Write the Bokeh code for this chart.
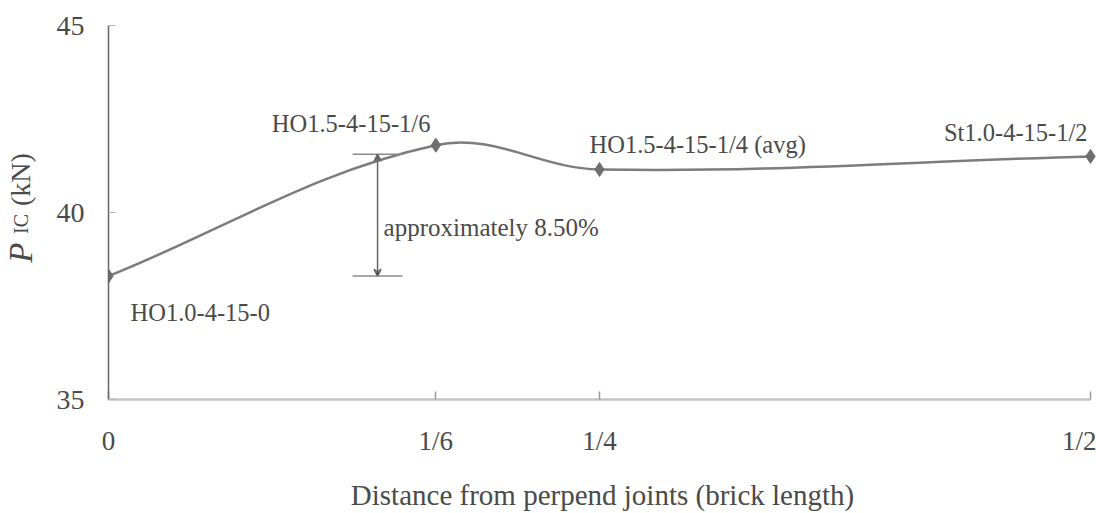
import math
import numpy as np
from bokeh.plotting import figure
from bokeh.layouts import row
from bokeh.models import Range1d, FixedTicker, Arrow, VeeHead
from bokeh.core.properties import value
from bokeh.embed import file_html
from bokeh.resources import INLINE

# ---- data -------------------------------------------------------------
positions = [0, 1 / 6, 1 / 4, 1 / 2]              # distance from perpend joints
tick_labels = ["0", "1/6", "1/4", "1/2"]
p_ic = [38.3, 41.8, 41.15, 41.5]                  # P_IC (kN)
specimens = ["HO1.0-4-15-0", "HO1.5-4-15-1/6",
             "HO1.5-4-15-1/4 (avg)", "St1.0-4-15-1/2"]
y_ticks = [35, 40, 45]
increase_pct = 8.50                               # rise from the 0 specimen

# ---- layout / style ---------------------------------------------------
W, H = 1096, 513
TITLE_W = 48                 # strip holding the rotated y title
LEFT = 108                   # canvas x of the plotting frame
TOP, BOTTOM = 25, 113
FRAME_H = H - TOP - BOTTOM
FRAME_W = W - LEFT           # frame runs to the right edge
X0, XMAX = 0.0, 0.5
Y0, Y1 = 35.0, 45.0
SX = 982 / (XMAX - X0)       # px per x unit (0.5 sits 6 px inside the edge)
SY = FRAME_H / (Y1 - Y0)     # px per y unit
X1 = X0 + FRAME_W / SX

FONT = "Liberation Serif"
TXT = "#4a4a4a"
LINE = "#7c7c7c"

p = figure(width=W - TITLE_W, height=H, output_backend="svg", toolbar_location=None,
           x_range=Range1d(X0, X1), y_range=Range1d(Y0, Y1),
           min_border_left=LEFT - TITLE_W, min_border_right=0,
           min_border_top=TOP, min_border_bottom=BOTTOM)
p.outline_line_color = None
p.xgrid.grid_line_color = None
p.ygrid.grid_line_color = None

# x axis
xa = p.xaxis[0]
xa.ticker = FixedTicker(ticks=positions)
xa.bounds = (X0, XMAX)
xa.major_label_overrides = {t: lab for t, lab in zip(positions, tick_labels)}
xa.minor_tick_line_color = None
xa.major_tick_in = 8
xa.major_tick_out = 0
xa.major_tick_line_color = "#9a9a9a"
xa.major_tick_line_width = 1.5
xa.axis_line_color = "#c4c4c4"
xa.axis_line_width = 2.5
xa.major_label_text_font = FONT
xa.major_label_text_font_size = "27px"
xa.major_label_text_color = TXT
xa.major_label_standoff = 26
xa.axis_label = "Distance from perpend joints (brick length)"
xa.axis_label_text_font = FONT
xa.axis_label_text_font_style = "normal"
xa.axis_label_text_font_size = "29px"
xa.axis_label_text_color = TXT
xa.axis_label_standoff = 20

# y axis
ya = p.yaxis[0]
ya.ticker = FixedTicker(ticks=y_ticks)
ya.minor_tick_line_color = None
ya.major_tick_in = 7
ya.major_tick_out = 0
ya.major_tick_line_color = "#b5b5b5"
ya.axis_line_color = "#666666"
ya.axis_line_width = 1.5
ya.major_label_text_font = FONT
ya.major_label_text_font_size = "28px"
ya.major_label_text_color = TXT
ya.major_label_standoff = 24

# ---- smoothed line (cubic Bezier segments through the points) ----------
px = np.array(positions) * SX
py = np.array(p_ic) * SY
n = len(px)
tang = []
for i in range(n):
    a, b = max(i - 1, 0), min(i + 1, n - 1)
    d = np.array([px[b] - px[a], py[b] - py[a]])
    tang.append(d / math.hypot(*d))
K = 0.36
bx0, by0, bx1, by1, cx0, cy0, cx1, cy1 = ([] for _ in range(8))
for i in range(n - 1):
    L = math.hypot(px[i + 1] - px[i], py[i + 1] - py[i])
    bx0.append(positions[i]); by0.append(p_ic[i])
    bx1.append(positions[i + 1]); by1.append(p_ic[i + 1])
    cx0.append((px[i] + tang[i][0] * L * K) / SX)
    cy0.append((py[i] + tang[i][1] * L * K) / SY)
    cx1.append((px[i + 1] - tang[i + 1][0] * L * K) / SX)
    cy1.append((py[i + 1] - tang[i + 1][1] * L * K) / SY)
p.bezier(x0=bx0, y0=by0, x1=bx1, y1=by1, cx0=cx0, cy0=cy0, cx1=cx1, cy1=cy1,
         line_color=LINE, line_width=2.5)

p.scatter(positions, p_ic, marker="diamond", size=14,
          fill_color="#6e6e6e", line_color="#6e6e6e")

# ---- specimen labels ---------------------------------------------------
label_style = [  # (align, x offset px, y offset px downward)
    ("left", 22, 36),
    ("left", -164, -22),
    ("left", -10, -25),
    ("right", -3, -24),
]
for xv, yv, name, (al, dx, dy) in zip(positions, p_ic, specimens, label_style):
    p.text(x=[xv], y=[yv], text=[name], x_offset=dx, y_offset=dy,
           text_align=al, text_baseline="alphabetic",
           text_font=value(FONT), text_font_size="24.5px", text_color=TXT)

# ---- increase annotation ----------------------------------------------
base = p_ic[0]
top = base * (1 + increase_pct / 100)
ann_x = 0.137
cap = 25 / SX
p.segment(x0=[ann_x - cap, ann_x - cap], y0=[base, top],
          x1=[ann_x + cap, ann_x + cap], y1=[base, top],
          line_color="#8a8a8a", line_width=1.5)
p.add_layout(Arrow(x_start=ann_x, y_start=base, x_end=ann_x, y_end=top,
                   line_color="#666666", line_width=1.5,
                   start=VeeHead(size=7, line_color="#666666", line_width=1.5),
                   end=VeeHead(size=7, line_color="#666666", line_width=1.5)))
p.text(x=[ann_x], y=[(base + top) / 2], text=[f"approximately {increase_pct:.2f}%"],
       x_offset=6, y_offset=12, text_align="left", text_baseline="alphabetic",
       text_font=value(FONT), text_font_size="25px", text_color=TXT)

# ---- y title strip: P_IC (kN), rotated ---------------------------------
# the strip shares the main plot's top/bottom borders, so its frame spans
# canvas rows TOP..TOP+FRAME_H; its y range is set in canvas pixels (upwards)
t = figure(width=TITLE_W, height=H, output_backend="svg", toolbar_location=None,
           x_range=Range1d(0, TITLE_W), y_range=Range1d(BOTTOM, H - TOP),
           min_border_left=0, min_border_right=0,
           min_border_top=TOP, min_border_bottom=BOTTOM,
           x_axis_type=None, y_axis_type=None)
t.outline_line_color = None
t.xgrid.grid_line_color = None
t.ygrid.grid_line_color = None
for txt, ypix, size, style in [("P", 263, "33px", "italic"),
                               ("IC", 234, "20px", "normal"),
                               ("(kN)", 206, "28px", "normal")]:
    t.text(x=[20], y=[H - ypix], text=[txt], angle=math.pi / 2,
           text_align="left", text_baseline="alphabetic",
           text_font=value(FONT), text_font_size=size,
           text_font_style=style, text_color=TXT)

layout = row(t, p, spacing=0)
open("out.html", "w").write(file_html(layout, INLINE))
